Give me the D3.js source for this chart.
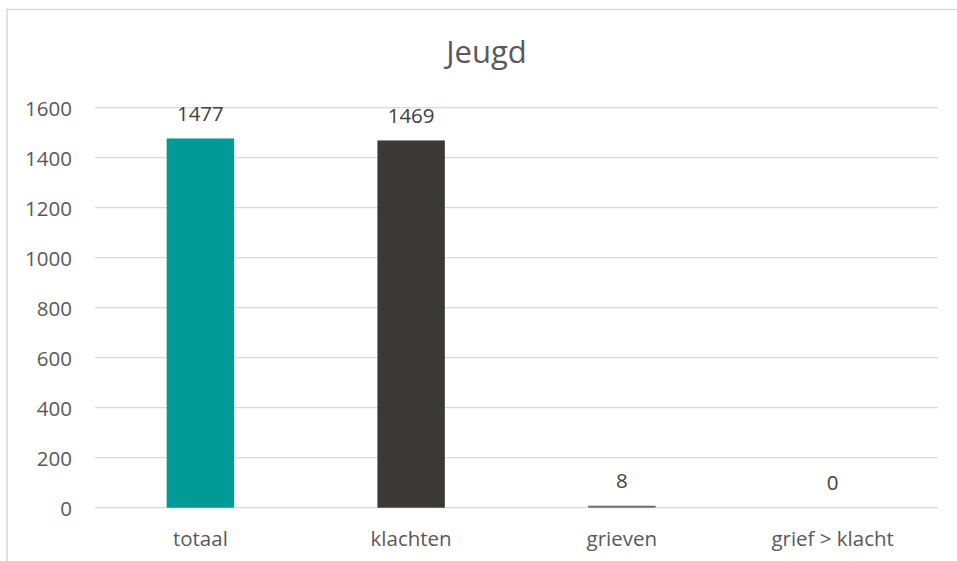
<!DOCTYPE html>
<html><head><meta charset="utf-8">
<script src="https://cdn.jsdelivr.net/npm/d3@7"></script>
<style>html,body{margin:0;padding:0;background:#fff;}svg{display:block;}</style>
</head><body>
<script>
const title = "Jeugd";
const categories = ["totaal", "klachten", "grieven", "grief > klacht"];
const values = [1477, 1469, 8, 0];
const barColors = ["#009a97", "#3a3938", "#6e6e6e", "#3a3938"];
const yTicks = [0, 200, 400, 600, 800, 1000, 1200, 1400, 1600];

const W = 957, H = 561;
const font = "'Open Sans', 'Noto Sans', sans-serif";
const textColor = "#595959";
const svg = d3.select("body").append("svg").attr("width", W).attr("height", H);

// chart border
svg.append("rect").attr("x", 7).attr("y", 9.5).attr("width", W + 10).attr("height", H + 10)
  .attr("fill", "#fff").attr("stroke", "#d9d9d9").attr("stroke-width", 1.5);

const x = d3.scaleBand().domain(categories).range([95, 938]).paddingInner(0.68).paddingOuter(0.34);
const y = d3.scaleLinear().domain([0, 1600]).range([507.7, 107.7]);

// gridlines
svg.append("g").selectAll("line").data(yTicks).join("line")
  .attr("x1", 95).attr("x2", 938)
  .attr("y1", d => y(d)).attr("y2", d => y(d))
  .attr("stroke", "#d9d9d9").attr("stroke-width", 1.3);

// y axis labels
const yAxis = d3.axisLeft(y).tickValues(yTicks).tickFormat(d3.format("d")).tickSize(0).tickPadding(0);
const gy = svg.append("g").attr("transform", "translate(72,0)").call(yAxis);
gy.select(".domain").remove();
gy.selectAll("text").attr("font-family", font).attr("font-size", 20.5).attr("fill", textColor).attr("dy", "0.36em");

// bars
svg.append("g").selectAll("rect").data(values).join("rect")
  .attr("x", (d, i) => x(categories[i]))
  .attr("width", x.bandwidth())
  .attr("y", d => y(d))
  .attr("height", d => y(0) - y(d))
  .attr("fill", (d, i) => barColors[i]);

// value labels
svg.append("g").selectAll("text").data(values).join("text")
  .attr("x", (d, i) => x(categories[i]) + x.bandwidth() / 2)
  .attr("y", d => y(d) - 17.5)
  .attr("text-anchor", "middle")
  .attr("font-family", font).attr("font-size", 20.5).attr("fill", "#404040")
  .text(d => d);

// x axis labels
const xAxis = d3.axisBottom(x).tickSize(0).tickPadding(0);
const gx = svg.append("g").attr("transform", "translate(0,546)").call(xAxis);
gx.select(".domain").remove();
gx.selectAll("text").attr("font-family", font).attr("font-size", 20.5).attr("fill", textColor).attr("dy", 0);

// title
svg.append("text").attr("x", 486.5).attr("y", 63).attr("text-anchor", "middle")
  .attr("font-family", font).attr("font-size", 31).attr("fill", textColor).text(title);
</script>
</body></html>
